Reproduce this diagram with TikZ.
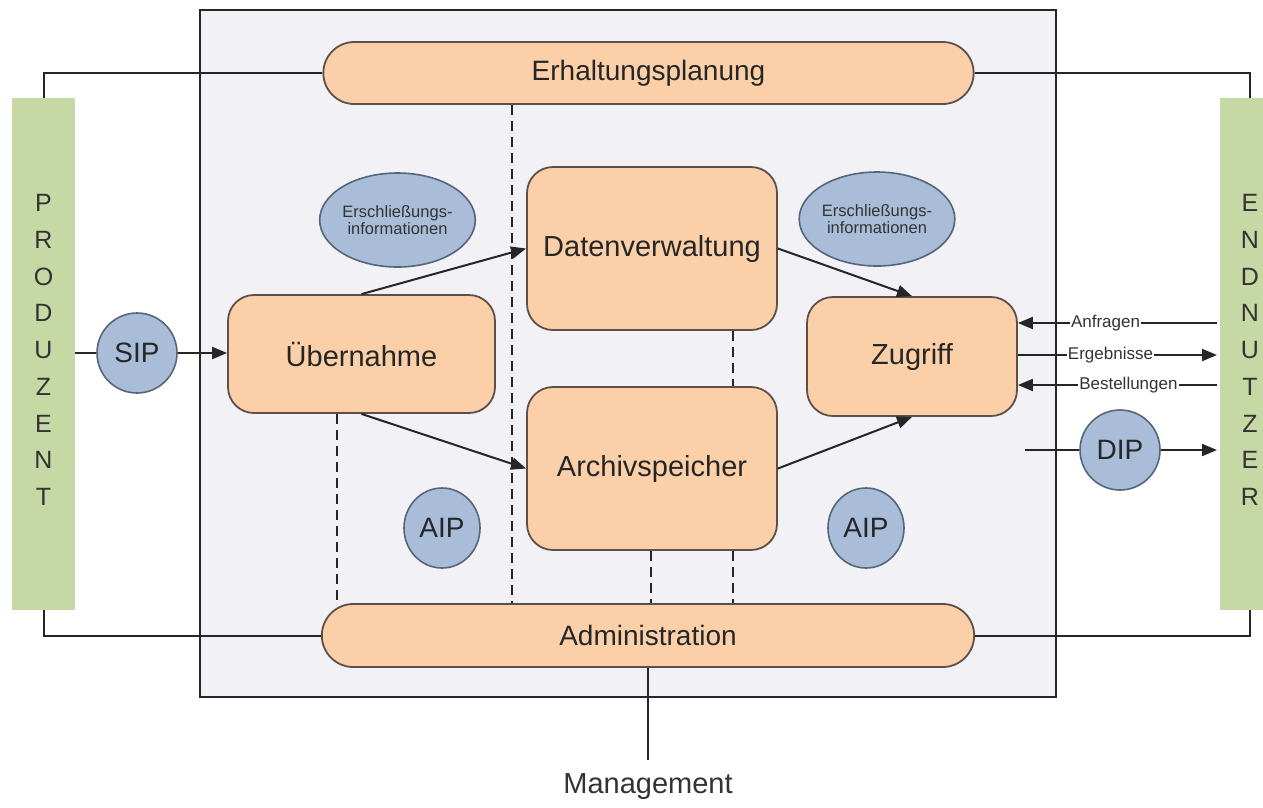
\documentclass[tikz,border=0pt]{standalone}
\usepackage{fontspec}
\setmainfont{Liberation Sans}
\usetikzlibrary{arrows.meta,shapes.geometric,shapes.misc}
\definecolor{orfill}{HTML}{FBD0A8}
\definecolor{orline}{HTML}{5E5048}
\definecolor{blfill}{HTML}{A9BDD8}
\definecolor{blline}{HTML}{56667A}
\definecolor{grfill}{HTML}{C6D9A5}
\definecolor{bgbox}{HTML}{F1F1F6}
\definecolor{ln}{HTML}{262626}
\tikzset{
  fs/.style={font=\fontsize{#1}{#1}\selectfont},
  bigbox/.style={rectangle, rounded corners=26pt, draw=orline, line width=1.8pt, fill=orfill, fs=29, text=black!85},
  bar/.style={rounded rectangle, draw=orline, line width=1.8pt, fill=orfill, fs=28, text=black!85},
  info/.style={ellipse, draw=blline, line width=1.6pt, fill=blfill, fs=16.5, align=center, inner sep=0pt, text=black!80},
  pkg/.style={ellipse, draw=blline, line width=1.6pt, fill=blfill, fs=28, inner sep=0pt, text=black!85},
  greenbar/.style={rectangle, fill=grfill, draw=none},
  con/.style={draw=ln, line width=2pt},
  arr/.style={con, -{Triangle[length=15pt,width=12pt]}},
  dsh/.style={draw=ln, line width=1.6pt, dash pattern=on 10pt off 6pt},
  lbl/.style={fill=white, inner sep=1pt, fs=17, text=black!80},
  vert/.style={align=center, font=\fontsize{25}{36.7}\selectfont, text=black!80}
}
\begin{document}
\begin{tikzpicture}[x=1pt,y=-1pt]
\useasboundingbox (0,0) rectangle (1263,807);
% outer system box
\draw[draw=ln, line width=2pt, fill=bgbox] (200,10) rectangle (1056,697);
% green bars
\node[greenbar, minimum width=63pt, minimum height=512pt] (prod) at (43.5,354) {};
\node[greenbar, minimum width=60pt, minimum height=512pt] (endn) at (1250,354) {};
\node[vert] (prodtxt) at (43.5,350) {P\\R\\O\\D\\U\\Z\\E\\N\\T};
\node[vert] (endntxt) at (1250,350) {E\\N\\D\\N\\U\\T\\Z\\E\\R};
% bars
\node[bar, minimum width=657pt, minimum height=62pt] (erh) at (648.5,73) {Erhaltungsplanung};
\node[bar, minimum width=659pt, minimum height=63pt] (adm) at (648,635.5) {Administration};
% main boxes
\node[bigbox, minimum width=267pt, minimum height=118pt] (ueb) at (361.5,354) {Übernahme};
\node[bigbox, minimum width=250pt, minimum height=163pt] (dv) at (652,248.5) {Datenverwaltung};
\node[bigbox, minimum width=250pt, minimum height=163pt] (as) at (652,468.5) {Archivspeicher};
\node[bigbox, minimum width=210pt, minimum height=119pt] (zug) at (912,356.5) {Zugriff};
% info ellipses
\node[info, minimum width=152pt, minimum height=94pt] (inf1) at (397.5,220) {Erschließungs-\\informationen};
\node[info, minimum width=140pt, minimum height=94pt] (inf2) at (877,219) {Erschließungs-\\informationen};
% packages
\node[pkg, minimum width=80pt, minimum height=80pt] (sip) at (137,353) {SIP};
\node[pkg, minimum width=80pt, minimum height=80pt] (dip) at (1120,450) {DIP};
\node[pkg, minimum width=76pt, minimum height=80pt] (aip1) at (442,528) {AIP};
\node[pkg, minimum width=76pt, minimum height=80pt] (aip2) at (866,528) {AIP};
% producer / user lines
\draw[con] (prod.north) |- (erh.west);
\draw[con] (erh.east) -| (endn.north);
\draw[con] (prod.south) |- (adm.west);
\draw[con] (adm.east) -| (endn.south);
% dashed lines
\draw[dsh] (erh.south -| 512,0) -- (adm.north -| 512,0);
\draw[dsh] (ueb.south -| 337,0) -- (adm.north -| 337,0);
\draw[dsh] (as.south -| 651,0) -- (adm.north -| 651,0);
\draw[dsh] (dv.south -| 733,0) -- (as.north -| 733,0);
\draw[dsh] (as.south -| 733,0) -- (adm.north -| 733,0);
% flows
\draw[con] (prod.east |- sip.west) -- (sip.west);
\draw[arr] (sip.east) -- (sip.east -| ueb.west);
\draw[arr] (ueb.north) -- (dv.west);
\draw[arr] (ueb.south) -- (as.west);
\draw[arr] (dv.east) -- (zug.north);
\draw[arr] (as.east) -- (zug.south);
\coordinate (qa) at (1217,323);
\coordinate (qe) at (1217,355);
\coordinate (qb) at (1217,385);
\draw[arr] (qa) -- (qa -| zug.east) node[lbl, pos=0.56] {Anfragen};
\draw[arr] (qe -| zug.east) -- (qe) node[lbl, pos=0.465] {Ergebnisse};
\draw[arr] (qb) -- (qb -| zug.east) node[lbl, pos=0.445] {Bestellungen};
\coordinate (ds) at (1025,450);
\coordinate (de) at (1217,450);
\draw[con] (ds) -- (dip.west);
\draw[arr] (dip.east) -- (de);
% management
\coordinate (mg) at (648,760);
\draw[con] (adm.south) -- (mg);
\node[fs=29, text=black!80] (mgt) at (648,787) {Management};
\end{tikzpicture}
\end{document}
